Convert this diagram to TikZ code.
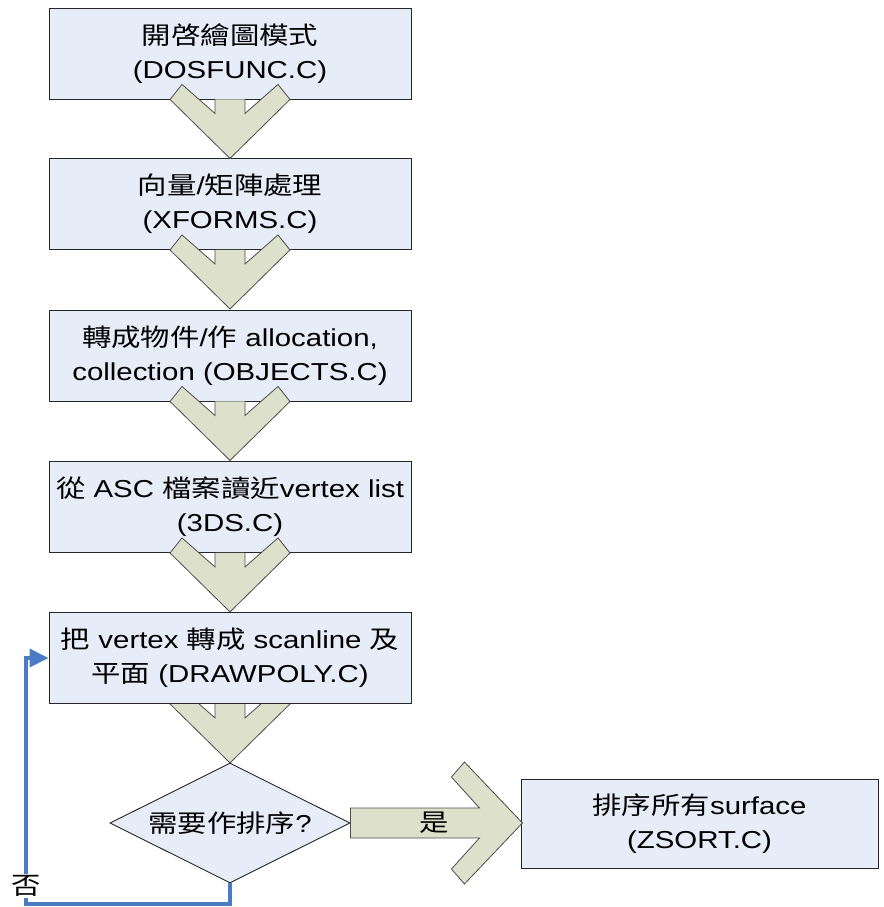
\documentclass[tikz,border=0pt]{standalone}
\usepackage{fontspec}
\setmainfont{Liberation Sans}[FakeStretch=1.2]
\newfontfamily\cjk{Noto Sans CJK TC}[FakeStretch=1.2]
\usepackage{xcolor}
\usetikzlibrary{shapes.geometric, arrows.meta, positioning, backgrounds}

\definecolor{boxblue}{HTML}{E7EDF8}
\definecolor{chevgreen}{HTML}{DDE0CB}
\definecolor{loopblue}{HTML}{4A7CC6}

\tikzset{
  stepbox/.style={draw=black!85, fill=boxblue, line width=0.9pt, minimum width=362pt,
    minimum height=91pt, inner sep=0pt, align=center,
    font=\fontsize{24.5}{34}\selectfont},
  decide/.style={diamond, draw=black!85, fill=boxblue, line width=0.9pt, aspect=2,
    minimum width=240pt, minimum height=120pt, inner sep=0pt,
    font=\fontsize{24.5}{34}\selectfont},
  chev/.style={fill=chevgreen, draw=black!70, line width=0.8pt, line join=miter},
  noloop/.style={draw=loopblue, line width=3.6pt, -{Triangle[length=19pt, width=18pt]}},
  lbl/.style={font=\fontsize{24.5}{34}\selectfont, inner sep=1pt}
}

% down chevron hanging from the bottom of a box
\newcommand{\chevdown}[1]{%
  \filldraw[chev, shift={(#1.south)}] (-15,0) -- (-15,14) -- (-48,-15) -- (-60,0)
    -- (0,59) -- (60,0) -- (48,-15) -- (15,14) -- (15,0);
}

\begin{document}
\begin{tikzpicture}[x=1pt, y=-1pt]
  \useasboundingbox (0,0) rectangle (883,907);

  \node[stepbox] (b1) at (230,53.5) {{\cjk 開啓繪圖模式}\\(DOSFUNC.C)};
  \node[stepbox] (b2) at (230,204) {{\cjk 向量}/{\cjk 矩陣處理}\\(XFORMS.C)};
  \node[stepbox] (b3) at (230,355.5) {{\cjk 轉成物件}/{\cjk 作} allocation,\\collection (OBJECTS.C)};
  \node[stepbox] (b4) at (230,507) {{\cjk 從} ASC {\cjk 檔案讀近}vertex list\\(3DS.C)};

  \chevdown{b1}
  \chevdown{b2}
  \chevdown{b3}
  \chevdown{b4}

  \node[stepbox] (b5) at (230,658) {{\cjk 把} vertex {\cjk 轉成} scanline {\cjk 及}\\{\cjk 平面} (DRAWPOLY.C)};
  \begin{pgfonlayer}{background}
    \chevdown{b5}
  \end{pgfonlayer}

  \node[decide] (dia) at (230,823) {{\cjk 需要作排序}?};
  \node[stepbox, minimum width=357pt, minimum height=89pt] (zs) at (699.5,823.5)
    {{\cjk 排序所有}surface\\(ZSORT.C)};

  % yes arrow
  \filldraw[chev, shift={(dia.east)}] (0,-15) -- (129,-15) -- (101,-46) -- (114,-61)
    -- (172,0) -- (114,61) -- (101,46) -- (129,15) -- (0,15) -- cycle;
  \node[lbl] (yes) at (434,823) {\cjk 是};

  % no loop back
  \coordinate (lc) at (26,904);
  \draw[noloop] (dia.south) |- (lc) |- (b5.west);
  \node[lbl, fill=white] (no) at (26,886) {\cjk 否};
\end{tikzpicture}
\end{document}
